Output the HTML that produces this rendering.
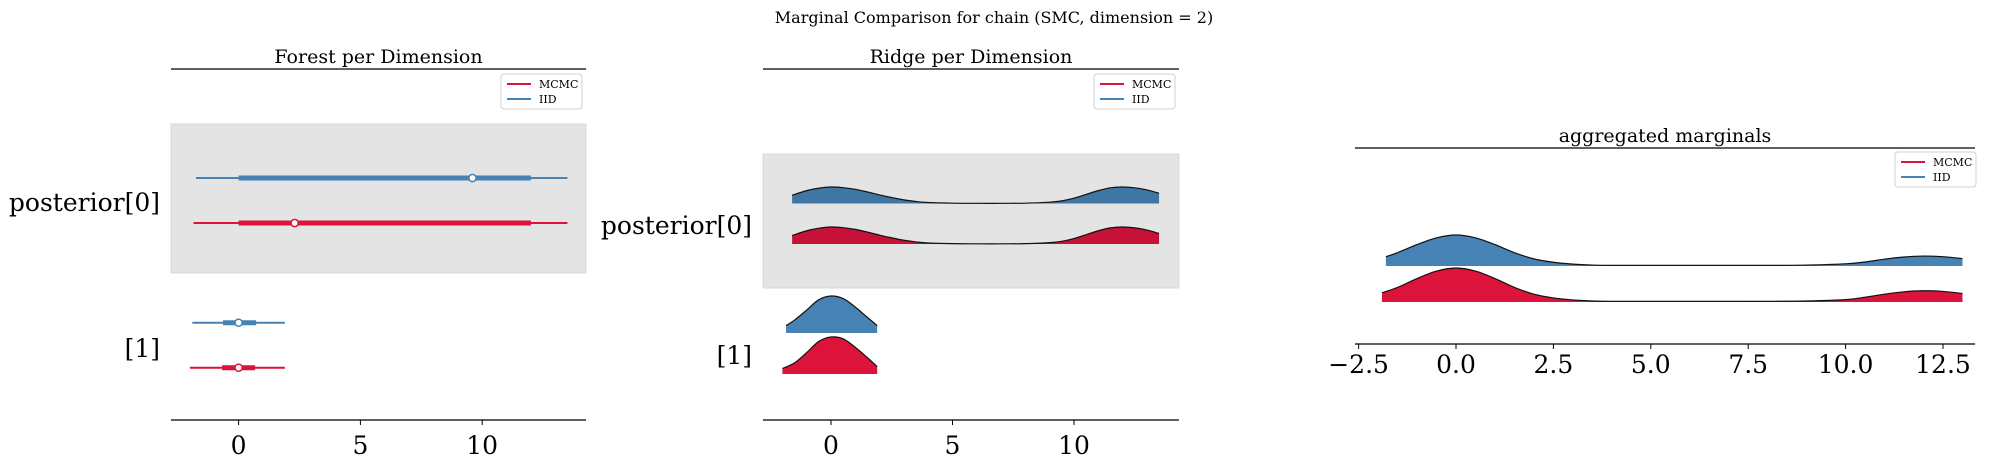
<!DOCTYPE html>
<html><head><meta charset="utf-8"><style>
html,body{margin:0;padding:0;background:#fff;}
svg{display:block;font-family:"DejaVu Serif","Liberation Serif",serif;}
</style></head><body>
<svg id="c" width="1990" height="465" viewBox="0 0 1990 465" xmlns="http://www.w3.org/2000/svg">
<text x="994" y="23" font-size="16" text-anchor="middle">Marginal Comparison for chain (SMC, dimension = 2)</text>
<g id="p1"></g>
<g id="p2"></g>
<g id="p3"></g>
</svg>
<script>
// ---- data ----
const forestRows = ["posterior[0]", "[1]"];
const forestSeries = ["IID", "MCMC"];
// [whiskerLow, hdiLow, median, hdiHigh, whiskerHigh]
const forestIID = [[-1.75, 0.0, 9.6, 12.0, 13.5], [-1.9, -0.64, 0.0, 0.72, 1.9]];
const forestMCMC = [[-1.85, 0.0, 2.3, 12.0, 13.5], [-2.0, -0.68, 0.0, 0.68, 1.9]];
const ticks12 = [0, 5, 10];
const ticks3 = [-2.5, 0, 2.5, 5, 7.5, 10, 12.5];
const tickLabels3 = ["\u22122.5", "0.0", "2.5", "5.0", "7.5", "10.0", "12.5"];
// ridge densities (x grid and relative height)
const r0x = [-1.6, -1, -0.5, 0, 0.5, 1, 1.5, 2, 2.5, 3, 3.5, 4, 5, 6, 7, 8, 9, 9.5, 10, 10.5, 11, 11.5, 12, 12.5, 13, 13.5];
const r0IID = [0.5, 0.78, 0.93, 1, 0.96, 0.86, 0.7, 0.52, 0.36, 0.22, 0.12, 0.06, 0.02, 0.01, 0.01, 0.02, 0.08, 0.16, 0.32, 0.55, 0.78, 0.95, 1, 0.95, 0.82, 0.62];
const r0MCMC = [0.5, 0.78, 0.93, 1, 0.96, 0.86, 0.7, 0.52, 0.36, 0.22, 0.12, 0.06, 0.02, 0.01, 0.01, 0.02, 0.08, 0.16, 0.32, 0.55, 0.78, 0.95, 1, 0.95, 0.82, 0.62];
const r1xIID = [-1.85, -1.5, -1, -0.5, 0, 0.5, 1, 1.5, 1.9];
const r1IID = [0.2, 0.35, 0.62, 0.9, 1, 0.93, 0.7, 0.42, 0.2];
const r1xMCMC = [-2.0, -1.5, -1, -0.5, 0, 0.5, 1, 1.5, 1.9];
const r1MCMC = [0.15, 0.3, 0.58, 0.88, 1, 0.95, 0.72, 0.44, 0.2];
const aggxIID = [-1.8, -1.5, -1, -0.5, 0, 0.5, 1, 1.5, 2, 2.5, 3, 3.5, 4, 5, 6, 7, 8, 9, 10, 10.5, 11, 11.5, 12, 12.5, 13];
const aggIID = [0.3, 0.43, 0.69, 0.91, 1, 0.91, 0.69, 0.43, 0.23, 0.12, 0.06, 0.03, 0.02, 0.02, 0.02, 0.02, 0.02, 0.03, 0.07, 0.13, 0.22, 0.29, 0.32, 0.3, 0.24];
const aggxMCMC = [-1.9, -1.5, -1, -0.5, 0, 0.5, 1, 1.5, 2, 2.5, 3, 3.5, 4, 5, 6, 7, 8, 9, 10, 10.5, 11, 11.5, 12, 12.5, 13];
const aggMCMC = [0.27, 0.43, 0.69, 0.91, 1, 0.91, 0.69, 0.43, 0.23, 0.12, 0.06, 0.03, 0.02, 0.02, 0.02, 0.02, 0.02, 0.03, 0.07, 0.14, 0.23, 0.3, 0.33, 0.31, 0.25];

const NS = "http://www.w3.org/2000/svg";
const BLUE = "#4682b4", RED = "#dc143c";
function mk(parent, tag, attrs, text) {
  const e = document.createElementNS(NS, tag);
  for (const k in attrs) e.setAttribute(k, attrs[k]);
  if (text !== undefined) e.textContent = text;
  parent.appendChild(e);
  return e;
}
function lin(d0, d1, r0, r1) { return v => r0 + (v - d0) / (d1 - d0) * (r1 - r0); }
function smoothPath(pts) {
  let d = "M" + pts[0][0] + "," + pts[0][1];
  for (let i = 0; i < pts.length - 1; i++) {
    const p0 = pts[Math.max(0, i - 1)], p1 = pts[i], p2 = pts[i + 1], p3 = pts[Math.min(pts.length - 1, i + 2)];
    const c1 = [p1[0] + (p2[0] - p0[0]) / 6, p1[1] + (p2[1] - p0[1]) / 6];
    const c2 = [p2[0] - (p3[0] - p1[0]) / 6, p2[1] - (p3[1] - p1[1]) / 6];
    d += " C" + c1[0] + "," + c1[1] + " " + c2[0] + "," + c2[1] + " " + p2[0] + "," + p2[1];
  }
  return d;
}
function ridge(g, xs, ys, sx, base, h, fill, name) {
  const pts = xs.map((x, i) => [sx(x), base - ys[i] * h]);
  const top = smoothPath(pts);
  const area = mk(g, "path", { d: top + " L" + sx(xs[xs.length - 1]) + "," + base + " L" + sx(xs[0]) + "," + base + " Z", fill: fill, stroke: "none" });
  
  
  const line = mk(g, "path", { d: top, fill: "none", stroke: "#111", "stroke-width": 1.2 });
  
  
}
function legend(g, x, y) {
  const box = mk(g, "rect", { x: x, y: y, width: 81, height: 35, rx: 3, fill: "#fff", stroke: "#d0d0d0" });
  
  
  const items = [["MCMC", RED], ["IID", BLUE]];
  items.forEach((it, i) => {
    const ly = y + 10 + i * 15;
    const l = mk(g, "line", { x1: x + 6, x2: x + 30, y1: ly, y2: ly, stroke: it[1], "stroke-width": 2 });
    
    
    const t = mk(g, "text", { x: x + 38, y: ly + 4, "font-size": 11 }, it[0]);
    
    
  });
}
function xAxis(g, x0, x1, y, sx, ticks, labels, fs, off) {
  const a = mk(g, "line", { x1: x0, x2: x1, y1: y, y2: y, stroke: "#000", "stroke-width": 1.2 });
  
  
  ticks.forEach((t, i) => {
    const tk = mk(g, "line", { x1: sx(t), x2: sx(t), y1: y, y2: y + 5, stroke: "#000" });
    
    
    const tl = mk(g, "text", { x: sx(t), y: y + off, "font-size": fs, "text-anchor": "middle" }, labels[i]);
    
    
  });
}
function title(g, x0, x1, y, text) {
  const t = mk(g, "text", { x: (x0 + x1) / 2, y: y - 6, "font-size": 19, "text-anchor": "middle" }, text);
  
  
  const l = mk(g, "line", { x1: x0, x2: x1, y1: y, y2: y, stroke: "#000", "stroke-width": 1.2 });
  
  
}
function rowLabel(g, x, y, text) {
  const t = mk(g, "text", { x: x, y: y + 9, "font-size": 25, "text-anchor": "end" }, text);
  
  
}

// ---- panel 1: forest ----
(function () {
  const g = document.getElementById("p1");
  const sx = lin(0, 10, 238.6, 482.2);
  title(g, 171, 586, 69, "Forest per Dimension");
  const bg = mk(g, "rect", { x: 171, y: 124, width: 415, height: 149, fill: "#e4e4e4", stroke: "#d8d8d8" });
  
  
  const rowY = [[178, 223], [322.7, 367.7]];
  const all = [forestIID, forestMCMC];
  const cols = [BLUE, RED];
  forestRows.forEach((r, ri) => {
    all.forEach((s, si) => {
      const v = s[ri], y = rowY[ri][si];
      const w = mk(g, "line", { x1: sx(v[0]), x2: sx(v[4]), y1: y, y2: y, stroke: cols[si], "stroke-width": 2 });
      
      
      const th = mk(g, "line", { x1: sx(v[1]), x2: sx(v[3]), y1: y, y2: y, stroke: cols[si], "stroke-width": 5 });
      
      
      const m = mk(g, "circle", { cx: sx(v[2]), cy: y, r: 3.6, fill: "#fff", stroke: cols[si], "stroke-width": 1.5 });
      
      
    });
  });
  rowLabel(g, 160, 202, forestRows[0]);
  rowLabel(g, 160, 348, forestRows[1]);
  xAxis(g, 171, 586, 420, sx, ticks12, ticks12.map(String), 25, 34);
  legend(g, 501, 74);
})();

// ---- panel 2: ridge ----
(function () {
  const g = document.getElementById("p2");
  const sx = lin(0, 10, 831, 1074);
  title(g, 763, 1179, 69, "Ridge per Dimension");
  const bg = mk(g, "rect", { x: 763, y: 154, width: 416, height: 134, fill: "#e4e4e4", stroke: "#d8d8d8" });
  
  
  ridge(g, r0x, r0IID, sx, 203.5, 16.5, "#3f76a3", "ridge-iid-0");
  ridge(g, r0x, r0MCMC, sx, 244, 17, "#c61236", "ridge-mcmc-0");
  ridge(g, r1xIID, r1IID, sx, 333, 37, BLUE, "ridge-iid-1");
  ridge(g, r1xMCMC, r1MCMC, sx, 374, 37, RED, "ridge-mcmc-1");
  rowLabel(g, 752, 225, "posterior[0]");
  rowLabel(g, 752, 355, "[1]");
  xAxis(g, 763, 1179, 420, sx, ticks12, ticks12.map(String), 25, 34);
  legend(g, 1094, 74);
})();

// ---- panel 3: aggregated ----
(function () {
  const g = document.getElementById("p3");
  const sx = lin(0, 10, 1456, 1845.6);
  title(g, 1355, 1975, 148, "aggregated marginals");
  ridge(g, aggxIID, aggIID, sx, 266, 31, BLUE, "aggregated-iid");
  ridge(g, aggxMCMC, aggMCMC, sx, 302, 34, RED, "aggregated-mcmc");
  xAxis(g, 1355, 1975, 344, sx, ticks3, tickLabels3, 25, 29);
  legend(g, 1895, 152);
})();
</script>
</body></html>
